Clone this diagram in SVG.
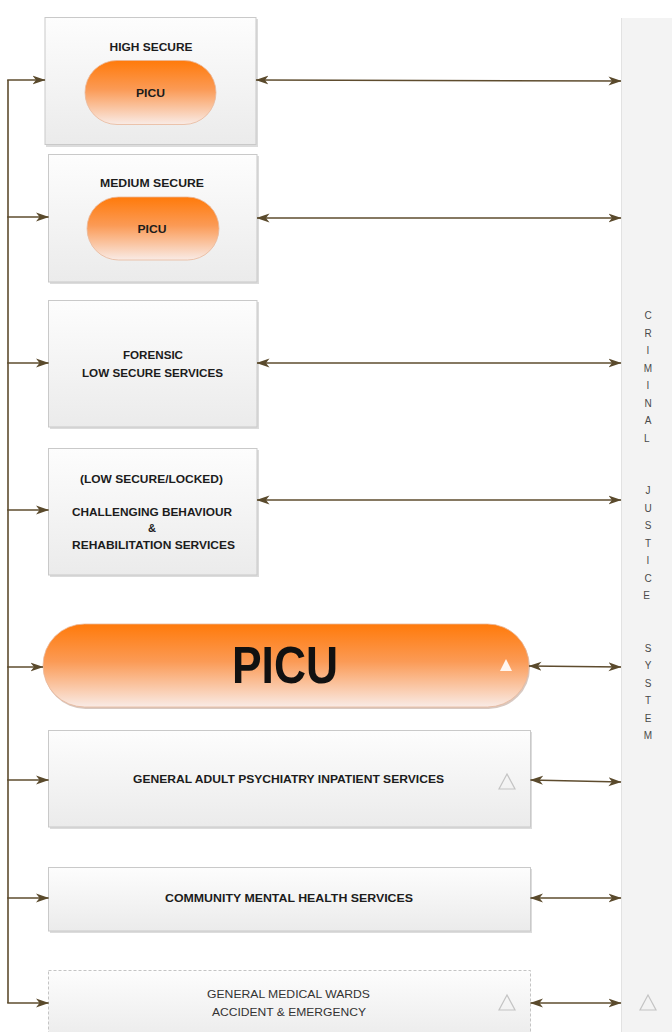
<svg xmlns="http://www.w3.org/2000/svg" width="672" height="1032" viewBox="0 0 672 1032">
<defs>
<linearGradient id="boxg" x1="0" y1="0" x2="0" y2="1">
<stop offset="0" stop-color="#fdfdfd"/>
<stop offset="1" stop-color="#ebebeb"/>
</linearGradient>
<linearGradient id="pillg" x1="0" y1="0" x2="0" y2="1">
<stop offset="0" stop-color="#ff7a0a"/>
<stop offset="0.45" stop-color="#fb9a55"/>
<stop offset="1" stop-color="#f9ebe6"/>
</linearGradient>
<marker id="ah" viewBox="0 0 13 10" markerWidth="13" markerHeight="10" refX="12.5" refY="5" orient="auto-start-reverse" markerUnits="userSpaceOnUse">
<path d="M0,0.5 L13,5 L0,9.5 L3.5,5 Z" fill="#5a4a2c"/>
</marker>
</defs>
<style>
.box{fill:url(#boxg);stroke:#c9c9c9;stroke-width:1}
.shadow{fill:#dcdcdc}
.pill{fill:url(#pillg);stroke:#e8b89a;stroke-width:0.8}
.lbl{font-family:"Liberation Sans",Arial,sans-serif;font-weight:bold;font-size:11px;fill:#1c1c1c;text-anchor:middle}
.sm{font-size:10px}
.big{font-size:52px;fill:#111}
.reg{font-family:"Liberation Sans",Arial,sans-serif;font-size:11px;fill:#333;text-anchor:middle}
.cjs{font-family:"Liberation Sans",Arial,sans-serif;font-size:10px;fill:#4a4a4a;text-anchor:middle}
.conn{fill:none;stroke:#5e4c2e;stroke-width:1.6}
.tri{fill:none;stroke:#c4c4c4;stroke-width:1.2}
</style>
<rect x="0" y="0" width="672" height="1032" fill="#ffffff"/>

<g id="cjs-panel">
<rect x="621" y="18" width="51" height="1014" fill="#f3f3f3"/>
<line x1="621.5" y1="18" x2="621.5" y2="1032" stroke="#e2e2e2" stroke-width="1"/>
<text class="cjs">
<tspan x="648" y="319">C</tspan><tspan x="648" y="336.5">R</tspan><tspan x="648" y="354">I</tspan><tspan x="648" y="371.5">M</tspan><tspan x="648" y="389">I</tspan><tspan x="648" y="406.5">N</tspan><tspan x="648" y="424">A</tspan><tspan x="648" y="441.5">L</tspan>
<tspan x="648" y="494">J</tspan><tspan x="648" y="511.5">U</tspan><tspan x="648" y="529">S</tspan><tspan x="648" y="546.5">T</tspan><tspan x="648" y="564">I</tspan><tspan x="648" y="581.5">C</tspan><tspan x="648" y="599">E</tspan>
<tspan x="648" y="651.5">S</tspan><tspan x="648" y="669">Y</tspan><tspan x="648" y="686.5">S</tspan><tspan x="648" y="704">T</tspan><tspan x="648" y="721.5">E</tspan><tspan x="648" y="739">M</tspan>
</text>
<path class="tri" d="M648,995 L656,1010 L640,1010 Z"/>
</g>

<g id="high-secure">
<rect class="shadow" x="46" y="19" width="212" height="128"/>
<rect class="box" x="45" y="17.5" width="211" height="127"/>
<text class="lbl" x="151" y="51" textLength="83" lengthAdjust="spacingAndGlyphs">HIGH SECURE</text>
<rect class="pill" x="85" y="60.5" width="131" height="64" rx="32" ry="32"/>
<text class="lbl sm" x="150.5" y="97" textLength="29" lengthAdjust="spacingAndGlyphs">PICU</text>
</g>

<g id="medium-secure">
<rect class="shadow" x="50" y="156" width="209" height="128"/>
<rect class="box" x="48.5" y="154.5" width="208.5" height="127.5"/>
<text class="lbl" x="152" y="187" textLength="104" lengthAdjust="spacingAndGlyphs">MEDIUM SECURE</text>
<rect class="pill" x="87" y="197" width="132" height="63" rx="31.5" ry="31.5"/>
<text class="lbl sm" x="152" y="233" textLength="29" lengthAdjust="spacingAndGlyphs">PICU</text>
</g>

<g id="forensic">
<rect class="shadow" x="50" y="302" width="209" height="127"/>
<rect class="box" x="48.5" y="300.5" width="208.5" height="126.5"/>
<text class="lbl" x="153" y="359" textLength="60" lengthAdjust="spacingAndGlyphs">FORENSIC</text>
<text class="lbl" x="152.5" y="377" textLength="141" lengthAdjust="spacingAndGlyphs">LOW SECURE SERVICES</text>
</g>

<g id="challenging">
<rect class="shadow" x="50" y="450" width="209" height="127"/>
<rect class="box" x="48.5" y="448.5" width="208.5" height="126.5"/>
<text class="lbl" x="151.5" y="483" textLength="143" lengthAdjust="spacingAndGlyphs">(LOW SECURE/LOCKED)</text>
<text class="lbl" x="152" y="516" textLength="160" lengthAdjust="spacingAndGlyphs">CHALLENGING BEHAVIOUR</text>
<text class="lbl" x="152" y="532">&amp;</text>
<text class="lbl" x="153.5" y="549" textLength="163" lengthAdjust="spacingAndGlyphs">REHABILITATION SERVICES</text>
</g>

<g id="picu-main">
<rect x="44" y="626" width="486" height="83" rx="41.5" ry="41.5" fill="#d8c8c0"/>
<rect class="pill" x="43" y="624" width="486" height="83" rx="41.5" ry="41.5"/>
<text class="lbl big" x="285" y="683" textLength="106" lengthAdjust="spacingAndGlyphs">PICU</text>
<path d="M506,659 L512,671 L500,671 Z" fill="#ffffff" opacity="0.9"/>
</g>

<g id="general-adult">
<rect class="shadow" x="50" y="732" width="482" height="97"/>
<rect class="box" x="48.5" y="730.5" width="482" height="96.5"/>
<text class="lbl" x="288.5" y="783" textLength="311" lengthAdjust="spacingAndGlyphs">GENERAL ADULT PSYCHIATRY INPATIENT SERVICES</text>
<path class="tri" d="M507,774 L515,789 L499,789 Z"/>
</g>

<g id="community">
<rect class="shadow" x="50" y="869" width="482" height="64"/>
<rect class="box" x="48.5" y="867.5" width="482" height="63.5"/>
<text class="lbl" x="289" y="902" textLength="248" lengthAdjust="spacingAndGlyphs">COMMUNITY MENTAL HEALTH SERVICES</text>
</g>

<g id="general-medical">
<rect x="48.5" y="970.5" width="482" height="70" fill="url(#boxg)" stroke="#c4c4c4" stroke-width="1" stroke-dasharray="3,2"/>
<text class="reg" x="288.5" y="998" textLength="163" lengthAdjust="spacingAndGlyphs">GENERAL MEDICAL WARDS</text>
<text class="reg" x="289" y="1016" textLength="154" lengthAdjust="spacingAndGlyphs">ACCIDENT &amp; EMERGENCY</text>
<path class="tri" d="M507,995 L515,1010 L499,1010 Z"/>
</g>

<g id="connectors">
<path class="conn" d="M8,1003 L8,80"/>
<path class="conn" d="M7.2,80 L45,80" marker-end="url(#ah)"/>
<path class="conn" d="M7.2,217 L48.5,217" marker-end="url(#ah)"/>
<path class="conn" d="M7.2,363 L48.5,363" marker-end="url(#ah)"/>
<path class="conn" d="M7.2,510 L48.5,510" marker-end="url(#ah)"/>
<path class="conn" d="M7.2,667 L43,667" marker-end="url(#ah)"/>
<path class="conn" d="M7.2,780 L48.5,780" marker-end="url(#ah)"/>
<path class="conn" d="M7.2,898 L48.5,898" marker-end="url(#ah)"/>
<path class="conn" d="M7.2,1003 L48.5,1003" marker-end="url(#ah)"/>
<path class="conn" d="M256,80 L621,81" marker-start="url(#ah)" marker-end="url(#ah)"/>
<path class="conn" d="M257,218 L621,218" marker-start="url(#ah)" marker-end="url(#ah)"/>
<path class="conn" d="M257,363 L621,363" marker-start="url(#ah)" marker-end="url(#ah)"/>
<path class="conn" d="M257,500 L621,500" marker-start="url(#ah)" marker-end="url(#ah)"/>
<path class="conn" d="M529,666 L621,667" marker-start="url(#ah)" marker-end="url(#ah)"/>
<path class="conn" d="M530.5,780 L621,782" marker-start="url(#ah)" marker-end="url(#ah)"/>
<path class="conn" d="M530.5,898 L621,898" marker-start="url(#ah)" marker-end="url(#ah)"/>
<path class="conn" d="M530.5,1003 L621,1003" marker-start="url(#ah)" marker-end="url(#ah)"/>
</g>
</svg>
